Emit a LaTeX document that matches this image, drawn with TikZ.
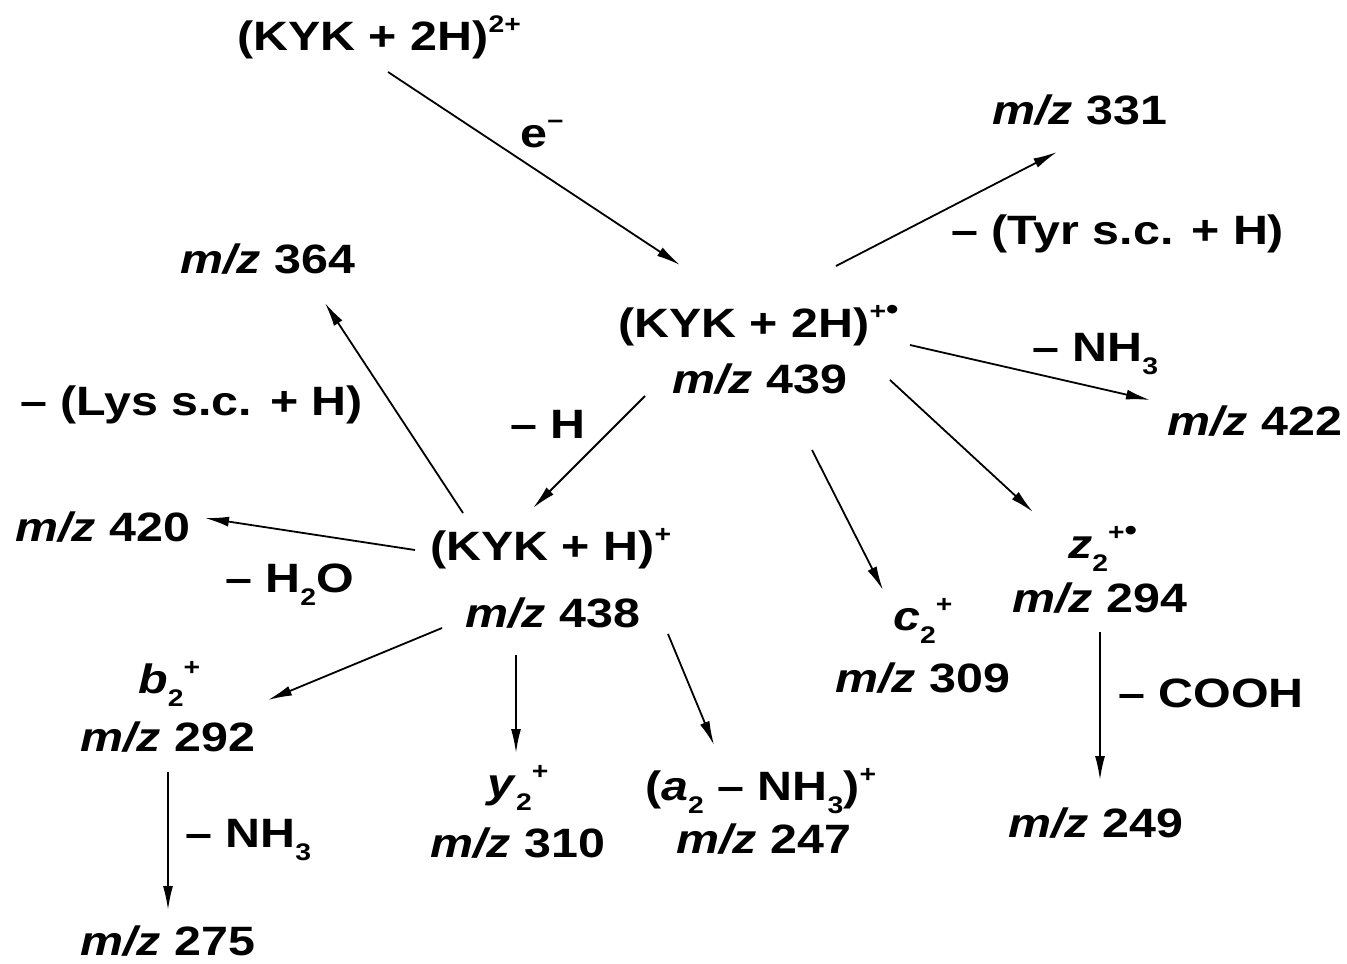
\documentclass[tikz,border=0pt]{standalone}
\usepackage{fontspec}
\setmainfont{Liberation Sans}[FakeStretch=1.18]
\usetikzlibrary{arrows.meta}
% small raised and lowered indices
\newcommand\up[1]{\raisebox{18pt}{\fontsize{24}{24}\selectfont #1}}
\newcommand\dn[1]{\raisebox{-13pt}{\fontsize{24}{24}\selectfont #1}}
\newcommand\rad{{\fontsize{30}{30}\selectfont •}}
\newcommand\mz{\textit{m/z}}
\begin{document}
\begin{tikzpicture}[x=1pt,y=-1pt,
  lbl/.style={font=\fontsize{41}{48}\selectfont\bfseries, inner sep=0pt, anchor=base west},
  arr/.style={line width=1.8pt, -{Latex[length=24pt,width=10pt]}}]
\useasboundingbox (0,0) rectangle (1347,964);

% precursor and electron capture
\node[lbl] (p2) at (237,50) {(KYK + 2H)\up{2+}};
\node[lbl] (e) at (520,147) {e\up{−}};

% charge-reduced radical ion
\node[lbl] (r1) at (618,337) {(KYK + 2H)\up{+\rad}};
\node[lbl] (r2) at (672,393) {\mz{} 439};

% losses from the radical ion
\node[lbl] (m331) at (992,124) {\mz{} 331};
\node[lbl] (tyr) at (951,244) {– (Tyr s.c. + H)};
\node[lbl] (nh3a) at (1032,361) {– NH\dn{3}};
\node[lbl] (m422) at (1167,435) {\mz{} 422};
\node[lbl] (z1) at (1068,558) {\textit{z}\dn{2}\up{+\rad}};
\node[lbl] (z2) at (1012,612) {\mz{} 294};
\node[lbl] (cooh) at (1118,707) {– COOH};
\node[lbl] (m249) at (1008,837) {\mz{} 249};
\node[lbl] (c1) at (893,630) {\textit{c}\dn{2}\up{+}};
\node[lbl] (c2) at (835,692) {\mz{} 309};
\node[lbl] (lossh) at (510,438) {– H};

% even-electron ion and its fragments
\node[lbl] (k1) at (430,560) {(KYK + H)\up{+}};
\node[lbl] (k2) at (465,627) {\mz{} 438};
\node[lbl] (m364) at (180,273) {\mz{} 364};
\node[lbl] (lys) at (20,415) {– (Lys s.c. + H)};
\node[lbl] (m420) at (15,541) {\mz{} 420};
\node[lbl] (h2o) at (225,592) {– H\dn{2}O};
\node[lbl] (b1) at (138,693) {\textit{b}\dn{2}\up{+}};
\node[lbl] (b2) at (80,751) {\mz{} 292};
\node[lbl] (nh3b) at (185,847) {– NH\dn{3}};
\node[lbl] (m275) at (80,955) {\mz{} 275};
\node[lbl] (y1) at (487,797) {\textit{y}\dn{2}\up{+}};
\node[lbl] (y2) at (430,857) {\mz{} 310};
\node[lbl] (a1) at (645,800) {(\textit{a}\dn{2} – NH\dn{3})\up{+}};
\node[lbl] (a2) at (676,853) {\mz{} 247};

% reaction arrows
\draw[arr] ([shift={(151,22)}]p2.base west) -- ([shift={(62,-72)}]r1.base west);
\draw[arr] ([shift={(218,-71)}]r1.base west) -- ([shift={(65,28)}]m331.base west);
\draw[arr] ([shift={(292,8)}]r1.base west) -- ([shift={(-17,-35)}]m422.base west);
\draw[arr] ([shift={(218,-13)}]r2.base west) -- ([shift={(-35,-46)}]z1.base west);
\draw[arr] ([shift={(140,57)}]r2.base west) -- ([shift={(-10,-40)}]c1.base west);
\draw[arr] ([shift={(-27,3)}]r2.base west) -- ([shift={(103,-52)}]k1.base west);
\draw[arr] ([shift={(33,-47)}]k1.base west) -- ([shift={(145,30)}]m364.base west);
\draw[arr] ([shift={(-15,-10)}]k1.base west) -- ([shift={(190,-23)}]m420.base west);
\draw[arr] ([shift={(-23,1)}]k2.base west) -- ([shift={(130,7)}]b1.base west);
\draw[arr] ([shift={(51,28)}]k2.base west) -- ([shift={(29,-44)}]y1.base west);
\draw[arr] ([shift={(203,7)}]k2.base west) -- ([shift={(69,-55)}]a1.base west);
\draw[arr] ([shift={(88,21)}]b2.base west) -- ([shift={(88,-45)}]m275.base west);
\draw[arr] ([shift={(88,20)}]z2.base west) -- ([shift={(92,-57)}]m249.base west);
\end{tikzpicture}
\end{document}
